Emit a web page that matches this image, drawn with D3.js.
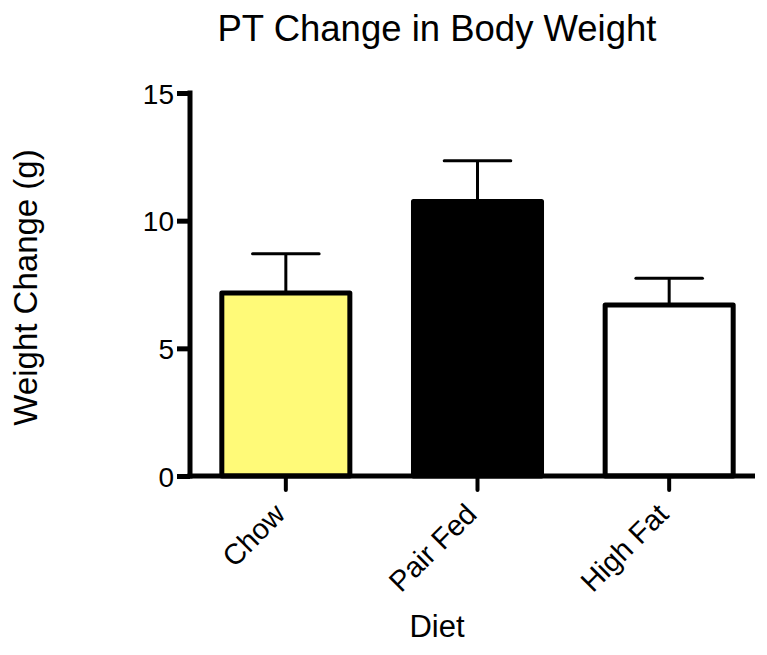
<!DOCTYPE html>
<html>
<head>
<meta charset="utf-8">
<script src="https://cdn.jsdelivr.net/npm/d3@7"></script>
<style>
  body { margin: 0; background: #fff; }
  text { font-family: "Liberation Sans", Arial, sans-serif; fill: #000; }
</style>
</head>
<body>
<svg class="chart"></svg>
<script>
var diets = ["Chow", "Pair Fed", "High Fat"];
var meanChange = [7.17, 10.75, 6.7];
var semChange = [1.53, 1.6, 1.04];
var barColors = ["#fffa78", "#000000", "#ffffff"];
var yTicks = [0, 5, 10, 15];

function show() {
    'use strict';
    var width = 767, height = 655;
    var margin = {top: 93, left: 190, bottom: 179, right: 12};
    var plotW = 565;

    var svg = d3.select(".chart")
        .attr("width", width)
        .attr("height", height);

    var y = d3.scaleLinear().domain([0, 15]).range([height - margin.bottom, margin.top]);
    var x = d3.scaleBand().domain(diets)
        .range([margin.left, margin.left + plotW + 10])
        .paddingInner(0.332).paddingOuter(0.166);

    var data = diets.map(function(d, i) {
        return {name: d, mean: meanChange[i], sem: semChange[i], color: barColors[i]};
    });

    // bars
    svg.selectAll("rect.bar").data(data).enter()
        .append("rect")
        .attr("class", "bar")
        .attr("x", function(d) { return x(d.name); })
        .attr("y", function(d) { return y(d.mean); })
        .attr("width", x.bandwidth())
        .attr("height", function(d) { return y(0) - y(d.mean); })
        .attr("fill", function(d) { return d.color; })
        .attr("stroke", "#000")
        .attr("stroke-width", 5)
        .attr("stroke-linejoin", "round");

    // error bars (upper only)
    var capW = x.bandwidth() * 0.52;
    var err = svg.selectAll("g.err").data(data).enter().append("g").attr("class", "err");
    err.append("line")
        .attr("x1", function(d) { return x(d.name) + x.bandwidth() / 2; })
        .attr("x2", function(d) { return x(d.name) + x.bandwidth() / 2; })
        .attr("y1", function(d) { return y(d.mean); })
        .attr("y2", function(d) { return y(d.mean + d.sem); })
        .attr("stroke", "#000").attr("stroke-width", 3);
    err.append("line")
        .attr("x1", function(d) { return x(d.name) + x.bandwidth() / 2 - capW / 2; })
        .attr("x2", function(d) { return x(d.name) + x.bandwidth() / 2 + capW / 2; })
        .attr("y1", function(d) { return y(d.mean + d.sem); })
        .attr("y2", function(d) { return y(d.mean + d.sem); })
        .attr("stroke", "#000").attr("stroke-width", 3).attr("stroke-linecap", "round");

    // y axis
    var yAxis = svg.append("g")
        .attr("transform", "translate(" + margin.left + ",0)")
        .call(d3.axisLeft(y).tickValues(yTicks).tickSize(13).tickSizeOuter(0).tickPadding(3));
    yAxis.selectAll("path, line").attr("stroke", "#000").attr("stroke-width", 5);
    yAxis.select(".domain").attr("d", "M0," + (y(0) + 2.5) + "V" + (y(15) - 2.5));
    yAxis.selectAll("line").attr("x1", 0);
    yAxis.selectAll("text")
        .style("font-size", "28px")
        .style("font-family", "'Liberation Sans', Arial, sans-serif")
        .attr("dy", "0.36em");

    // x axis
    var xAxis = svg.append("g")
        .attr("transform", "translate(0," + y(0) + ")")
        .call(d3.axisBottom(x).tickSize(14).tickSizeOuter(0));
    xAxis.select(".domain")
        .attr("d", "M" + (margin.left - 2.5) + ",0H" + (margin.left + plotW))
        .attr("stroke", "#000").attr("stroke-width", 5);
    xAxis.selectAll("line").attr("stroke", "#000").attr("stroke-width", 4)
        .attr("stroke-linecap", "round");
    xAxis.selectAll("text")
        .style("font-size", "29px")
        .style("font-family", "'Liberation Sans', Arial, sans-serif")
        .attr("text-anchor", "end")
        .attr("dy", null)
        .attr("y", 0)
        .attr("transform", "translate(1,40) rotate(-45)");

    // title and axis labels
    svg.append("text")
        .attr("x", 437).attr("y", 41)
        .attr("text-anchor", "middle")
        .style("font-size", "36.5px")
        .text("PT Change in Body Weight");

    svg.append("text")
        .attr("transform", "translate(37," + ((y(0) + y(15)) / 2 + 3) + ") rotate(-90)")
        .attr("text-anchor", "middle")
        .style("font-size", "33px")
        .text("Weight Change (g)");

    svg.append("text")
        .attr("x", 437).attr("y", 637)
        .attr("text-anchor", "middle")
        .style("font-size", "31px")
        .text("Diet");
}
show();
</script>
</body>
</html>
